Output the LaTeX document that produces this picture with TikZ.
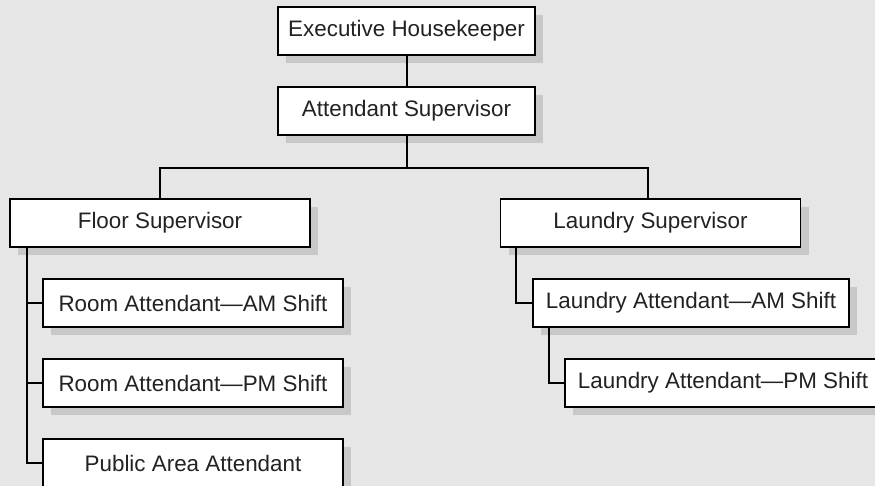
\documentclass[tikz,border=0pt]{standalone}
\usepackage{fontspec}
\setmainfont{Liberation Sans}
\usetikzlibrary{shadows}
\definecolor{pagebg}{HTML}{E6E6E6}
\definecolor{shadowgray}{HTML}{C8C8C8}
\definecolor{inkgray}{HTML}{222222}
\tikzset{
  orgbox/.style={draw=black, line width=1.8pt, fill=white, inner sep=0pt,
    minimum height=48pt, text=inkgray,
    font=\fontsize{22.4}{26}\selectfont,
    drop shadow={shadow xshift=8pt, shadow yshift=-8pt, fill=shadowgray, opacity=1}},
  orglink/.style={draw=black, line width=2pt},
}
\begin{document}
\begin{tikzpicture}[x=1pt, y=-1pt]
  % page background and fixed frame
  \fill[pagebg] (0,0) rectangle (875,486);
  \useasboundingbox (0,0) rectangle (875,486);

  % boxes
  \node[orgbox, minimum width=257pt] (exec)  at (406.5,31)  {Executive Housekeeper};
  \node[orgbox, minimum width=257pt] (att)   at (406.5,111) {Attendant Supervisor};
  \node[orgbox, minimum width=300pt] (floor) at (160,223)   {Floor Supervisor};
  \node[orgbox, minimum width=300pt] (laund) at (650.5,223) {Laundry Supervisor};
  \node[orgbox, minimum width=300pt] (ram)   at (193,303)   {Room Attendant---AM Shift};
  \node[orgbox, minimum width=300pt] (rpm)   at (193,383)   {Room Attendant---PM Shift};
  \node[orgbox, minimum width=300pt] (pub)   at (193,463)   {Public Area Attendant};
  \node[orgbox, minimum width=316pt] (lam)   at (691,303)   {Laundry Attendant---AM Shift};
  \node[orgbox, minimum width=316pt] (lpm)   at (723,383)   {Laundry Attendant---PM Shift};

  % top of the chart: one stem that splits to the two supervisors
  \coordinate (split) at ([yshift=-32pt]att.south);
  \draw[orglink] (exec.south) -- (att.north);
  \draw[orglink] (att.south) -- (split);
  \draw[orglink] (floor.north) |- (split) -| ([xshift=-2.5pt]laund.north);

  % floor staff hanging from one spine
  \coordinate (fspine) at ([xshift=18pt]floor.south west);
  \draw[orglink] (fspine) |- (pub.west);
  \draw[orglink] (ram.west) -- (ram.west -| fspine);
  \draw[orglink] (rpm.west) -- (rpm.west -| fspine);

  % laundry chain
  \draw[orglink] ([xshift=16pt]laund.south west) |- (lam.west);
  \draw[orglink] ([xshift=17pt]lam.south west) |- (lpm.west);
\end{tikzpicture}
\end{document}
